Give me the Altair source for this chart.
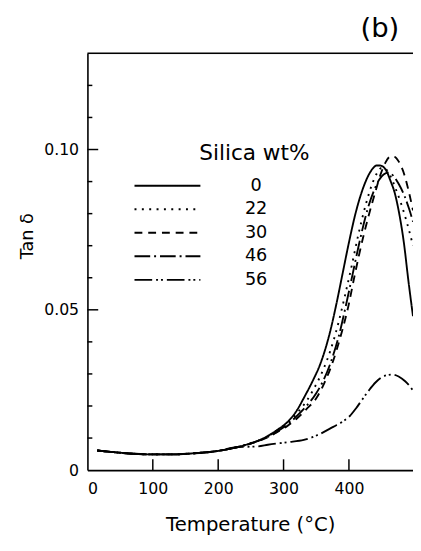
import altair as alt
import pandas as pd

# ---------------- data ----------------
SERIES = ["0", "22", "30", "46", "56"]

BASE_T = [15, 40, 70, 100, 130, 160, 200, 230]
BASE_V = [0.0061, 0.0056, 0.0051, 0.0049, 0.0049, 0.0052, 0.0060, 0.0072]

S0_T = BASE_T + [250, 270, 290, 306, 320, 331, 345, 356, 371, 381, 390, 400, 410, 420, 430, 437, 442, 448, 456, 464, 470, 476, 484, 491, 498]
S0_V = BASE_V + [0.0084, 0.0100, 0.0125, 0.0150, 0.0185, 0.0225, 0.0280, 0.0330, 0.0430, 0.0520, 0.0610, 0.0710, 0.0800, 0.0870, 0.0920, 0.0942, 0.0950, 0.0950, 0.0938, 0.0900, 0.0865, 0.0810, 0.0710, 0.0590, 0.0480]

S22_T = BASE_T + [250, 270, 290, 306, 320, 335, 348, 360, 372, 384, 394, 404, 415, 426, 436, 444, 450, 457, 464, 472, 480, 489, 498]
S22_V = BASE_V + [0.0084, 0.0099, 0.0123, 0.0146, 0.0176, 0.0215, 0.0260, 0.0310, 0.0375, 0.0460, 0.0545, 0.0635, 0.0740, 0.0830, 0.0895, 0.0930, 0.0943, 0.0938, 0.0915, 0.0875, 0.0830, 0.0770, 0.0700]

S30_T = BASE_T + [250, 270, 290, 306, 320, 335, 351, 362, 374, 389, 399, 409, 421, 431, 440, 448, 456, 464, 470, 476, 485, 492, 498]
S30_V = BASE_V + [0.0083, 0.0097, 0.0118, 0.0138, 0.0160, 0.0190, 0.0227, 0.0270, 0.0330, 0.0430, 0.0510, 0.0610, 0.0720, 0.0800, 0.0865, 0.0920, 0.0960, 0.0979, 0.0977, 0.0963, 0.0920, 0.0865, 0.0810]

S46_T = BASE_T + [250, 270, 290, 306, 320, 335, 350, 361, 372, 386, 395, 405, 416, 428, 438, 446, 453, 460, 468, 476, 485, 492, 498]
S46_V = BASE_V + [0.0083, 0.0098, 0.0120, 0.0142, 0.0168, 0.0200, 0.0240, 0.0280, 0.0335, 0.0430, 0.0510, 0.0605, 0.0710, 0.0810, 0.0870, 0.0905, 0.0922, 0.0928, 0.0918, 0.0893, 0.0855, 0.0815, 0.0775]

S56_T = BASE_T + [261, 276, 306, 331, 356, 376, 391, 401, 411, 421, 431, 441, 449, 458, 466, 476, 486, 493, 498]
S56_V = BASE_V + [0.0074, 0.0079, 0.0087, 0.0094, 0.0113, 0.0135, 0.0152, 0.0168, 0.0193, 0.0222, 0.0250, 0.0274, 0.0288, 0.0296, 0.0298, 0.0292, 0.0277, 0.0262, 0.0248]

DASHES = [[1, 0], [2, 5.5], [8, 6], [16, 4, 2, 4], [18, 4, 2, 3, 2, 4]]

X_LABELS = [0, 100, 200, 300, 400]
Y_LABELS = [0, 0.05, 0.10]
X_TICKS = [100, 200, 300, 400]
Y_MAJOR = [0.05, 0.10]
Y_MINOR = [0.01, 0.02, 0.03, 0.04, 0.06, 0.07, 0.08, 0.09, 0.11, 0.12]
Y_TOP = [0.13]

# ---------------- build table ----------------
rows = []
for name, ts, vs in [("0", S0_T, S0_V), ("22", S22_T, S22_V), ("30", S30_T, S30_V),
                     ("46", S46_T, S46_V), ("56", S56_T, S56_V)]:
    for t, v in zip(ts, vs):
        rows.append({"T": t, "v": v, "s": name})
df = pd.DataFrame(rows)

W, H = 332, 425
FONT = "DejaVu Sans"

xscale = alt.Scale(domain=[0, 498], nice=False, zero=False)
yscale = alt.Scale(domain=[0, 0.13], nice=False, zero=False)

xaxis = alt.Axis(values=X_LABELS, title="Temperature (°C)", tickSize=0, labelPadding=11,
                 grid=False, domainWidth=1.6, domainColor="black", labelColor="black",
                 labelFontSize=16, titleFontSize=20, titleFontWeight="normal", titleColor="black",
                 titleY=56, titleBaseline="middle", labelFont=FONT, titleFont=FONT)
yaxis = alt.Axis(values=Y_LABELS, title="Tan δ", tickSize=0, labelPadding=9, grid=False,
                 labelExpr="datum.value == 0 ? '0' : format(datum.value, '.2f')",
                 domainWidth=1.6, domainColor="black", labelColor="black",
                 labelFontSize=16, titleFontSize=18, titleFontWeight="normal", titleColor="black",
                 titleX=-61, titleY=186, titleAngle=270, titleAlign="center",
                 titleBaseline="middle", labelFont=FONT, titleFont=FONT)

X = alt.X("T:Q", scale=xscale, axis=xaxis)
Y = alt.Y("v:Q", scale=yscale, axis=yaxis)

# the drawn sample line sits to the left of the legend's own origin, so that the
# legend title can start where it does in the reference
legend = alt.Legend(
    title="Silica wt%", orient="none", legendX=114, legendY=92,
    symbolType="M-12.5,0H-1.3", symbolSize=144, symbolStrokeWidth=2,
    symbolStrokeColor="black", symbolFillColor="transparent",
    labelFontSize=18, labelAlign="center", labelOffset=40, labelFont=FONT, labelColor="black",
    titleFontSize=22, titleFontWeight="normal", titleFont=FONT, titleColor="black",
    titlePadding=12, rowPadding=6, padding=0, titleLimit=400,
)

lines = alt.Chart(df).mark_line(color="black", strokeWidth=1.9, interpolate="monotone",
                                clip=True).encode(
    x=X, y=Y,
    strokeDash=alt.StrokeDash("s:N", scale=alt.Scale(domain=SERIES, range=DASHES),
                              sort=SERIES, legend=legend),
    order="T:Q",
)

ymin = alt.Chart(pd.DataFrame({"v": Y_MINOR})).mark_rule(color="black", strokeWidth=1.5).encode(
    y=Y, x=alt.value(0), x2=alt.value(5))
ymaj = alt.Chart(pd.DataFrame({"v": Y_MAJOR})).mark_rule(color="black", strokeWidth=1.5).encode(
    y=Y, x=alt.value(0), x2=alt.value(11))
xmaj = alt.Chart(pd.DataFrame({"T": X_TICKS})).mark_rule(color="black", strokeWidth=1.5).encode(
    x=X, y=alt.value(H), y2=alt.value(H - 11))
top = alt.Chart(pd.DataFrame({"v": Y_TOP})).mark_rule(color="black", strokeWidth=1.6).encode(y=Y)

chart = alt.layer(top, ymin, ymaj, xmaj, lines).properties(
    width=W, height=H,
    autosize="none",
    padding={"left": 81, "top": 41, "right": 0, "bottom": 64},
    title=alt.TitleParams("(b)", anchor="end", frame="group", fontSize=28, fontWeight="normal",
                          font=FONT, color="black", dx=-14, offset=10),
).configure_view(stroke=None).configure(font=FONT)

chart.save("out.html", embed_options={"renderer": "svg", "actions": False})
